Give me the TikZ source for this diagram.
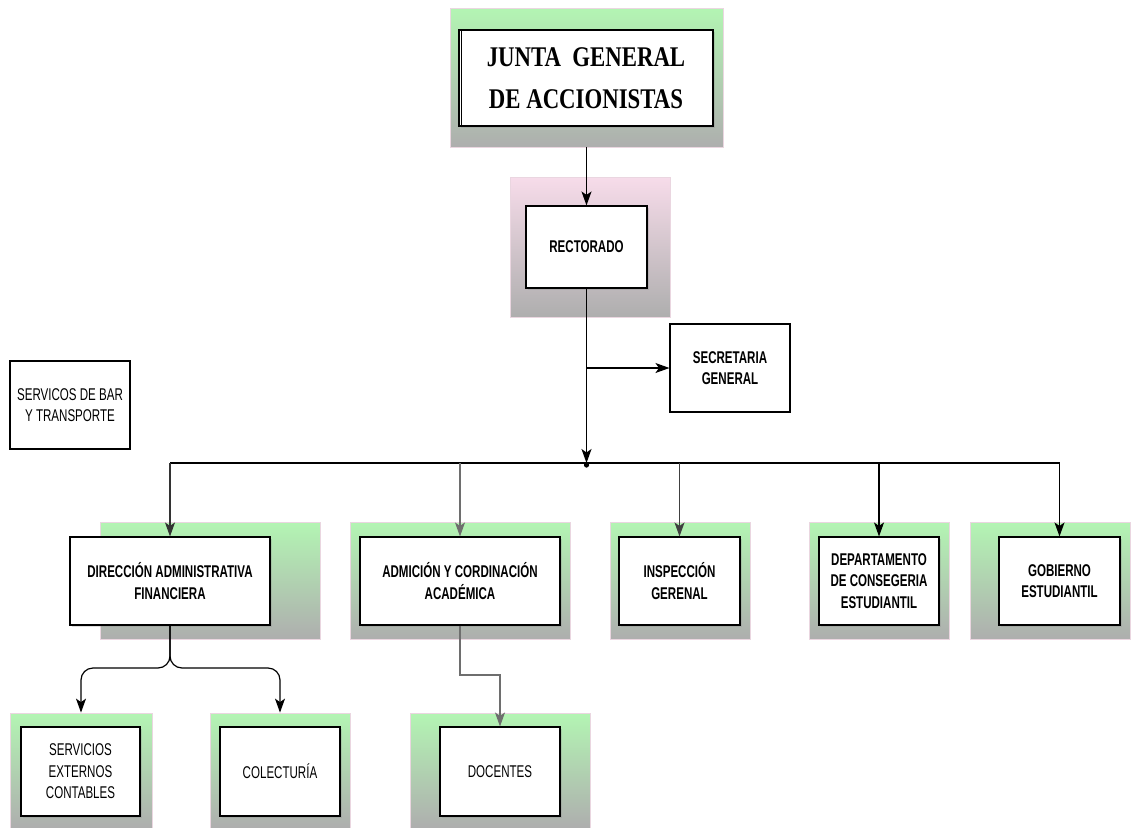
\documentclass[tikz,border=0pt]{standalone}
\usepackage{fontspec}
\usetikzlibrary{arrows.meta,shadows}
\newfontfamily\narfont[FakeStretch=0.68]{Liberation Sans}
\newfontfamily\serfont[FakeStretch=0.8]{Liberation Serif}
\definecolor{panelgreen}{HTML}{B3F5B3}
\definecolor{panelpink}{HTML}{F7DCEA}
\definecolor{panelgray}{HTML}{AEAEAE}
\definecolor{panelrim}{HTML}{EAD6E0}
\definecolor{linkgray}{HTML}{6E6E6E}
\tikzset{
  panel/.style={draw=panelrim, line width=0.8pt, top color=panelgreen,
    bottom color=panelgray, inner sep=0pt},
  pinkpanel/.style={panel, top color=panelpink},
  unitbox/.style={draw=black, fill=white, line width=1.1pt, inner sep=0pt,
    align=center, font=\narfont\bfseries\fontsize{17}{21.5}\selectfont,
    drop shadow={shadow xshift=2pt, shadow yshift=-2pt, opacity=0.25}},
  plainbox/.style={unitbox, font=\narfont\fontsize{17}{21.5}\selectfont},
  freebox/.style={draw=black, fill=white, line width=1.1pt, inner sep=0pt,
    align=center},
  arr/.style={-{Stealth[length=14pt,width=10pt,inset=3.5pt]}, line width=1.2pt},
  link/.style={line width=1.2pt},
}
\begin{document}
\begin{tikzpicture}[x=1pt,y=-1pt]
\useasboundingbox (0,0) rectangle (1134,827);

% --- background panels ---
\node[panel, minimum width=273pt, minimum height=139pt] (jp) at (586.5,77.5) {};
\node[pinkpanel, minimum width=160pt, minimum height=140pt] (rp) at (590,247) {};
\node[panel, minimum width=220pt, minimum height=117pt] (dp) at (210,580.5) {};
\node[panel, minimum width=220pt, minimum height=117pt] (ap) at (460,580.5) {};
\node[panel, minimum width=140pt, minimum height=117pt] (ip) at (680,580.5) {};
\node[panel, minimum width=140pt, minimum height=117pt] (cp) at (879,580.5) {};
\node[panel, minimum width=160pt, minimum height=117pt] (gp) at (1050,580.5) {};
\node[panel, minimum width=142pt, minimum height=115pt] (sep) at (81,770.5) {};
\node[panel, minimum width=140pt, minimum height=115pt] (colp) at (280,770.5) {};
\node[panel, minimum width=180pt, minimum height=115pt] (docp) at (500,770.5) {};

% --- boxes ---
\node[freebox, line width=1.6pt, minimum width=254pt, minimum height=96pt,
      font=\serfont\bfseries\fontsize{28.5}{42}\selectfont,
      drop shadow={shadow xshift=2pt, shadow yshift=-2pt, opacity=0.25}]
      (jbox) at (586,78) {JUNTA\ \ GENERAL\\DE ACCIONISTAS};
\draw[line width=1.1pt] ([xshift=3.5pt]jbox.north west) -- ([xshift=3.5pt]jbox.south west);

\node[unitbox, minimum width=121pt, minimum height=82pt] (rbox) at (586.5,247) {RECTORADO};
\node[freebox, font=\narfont\bfseries\fontsize{17}{21.5}\selectfont,
      minimum width=120pt, minimum height=88pt] (sbox) at (730,368) {SECRETARIA\\GENERAL};
\node[freebox, font=\narfont\fontsize{17}{21.5}\selectfont,
      minimum width=120pt, minimum height=88pt] (bbox) at (70,405) {SERVICOS DE BAR\\Y TRANSPORTE};

\node[unitbox, minimum width=200pt, minimum height=88pt] (dbox) at (170,581) {DIRECCIÓN ADMINISTRATIVA\\FINANCIERA};
\node[unitbox, minimum width=200pt, minimum height=88pt] (abox) at (460,581) {ADMICIÓN Y CORDINACIÓN\\ACADÉMICA};
\node[unitbox, minimum width=121pt, minimum height=88pt] (ibox) at (679.5,581) {INSPECCIÓN\\GERENAL};
\node[unitbox, minimum width=120pt, minimum height=88pt] (cbox) at (879,581) {DEPARTAMENTO\\DE CONSEGERIA\\ESTUDIANTIL};
\node[unitbox, minimum width=121pt, minimum height=88pt] (gbox) at (1059.5,581) {GOBIERNO\\ESTUDIANTIL};

\node[plainbox, minimum width=119pt, minimum height=89pt] (sebox) at (80.5,771.5) {SERVICIOS\\EXTERNOS\\CONTABLES};
\node[plainbox, minimum width=120pt, minimum height=89pt] (colbox) at (280,771.5) {COLECTURÍA};
\node[plainbox, minimum width=120pt, minimum height=89pt] (docbox) at (500,771.5) {DOCENTES};

% --- connectors ---
\coordinate (bus) at (586.5,463);
\coordinate (lvl) at (0,668);
\coordinate (dlvl) at (480,675);

\draw[arr] (jp.south) -- (rbox.north);
\draw[arr] (rbox.south) -- (bus);
\fill (bus) ++(0,2) circle (2.6pt);
\draw[arr] (rbox.south |- sbox.west) -- (sbox.west);

\draw[link] (dbox.north |- bus) -- (gbox.north |- bus);
\draw[arr, draw=black!80] (dbox.north |- bus) -- (dbox.north);
\draw[arr, draw=linkgray] (abox.north |- bus) -- (abox.north);
\draw[arr, draw=black!75] (ibox.north |- bus) -- (ibox.north);
\draw[arr] (cbox.north |- bus) -- (cbox.north);
\draw[arr] (gbox.north |- bus) -- (gbox.north);

\draw[arr, rounded corners=12pt] (dbox.south) |- (sep.north |- lvl) -- (sep.north);
\draw[arr, rounded corners=12pt] (dbox.south) |- (colp.north |- lvl) -- (colp.north);

\draw[arr, draw=linkgray] (abox.south) |- (dlvl) -| (docbox.north);
\end{tikzpicture}
\end{document}
